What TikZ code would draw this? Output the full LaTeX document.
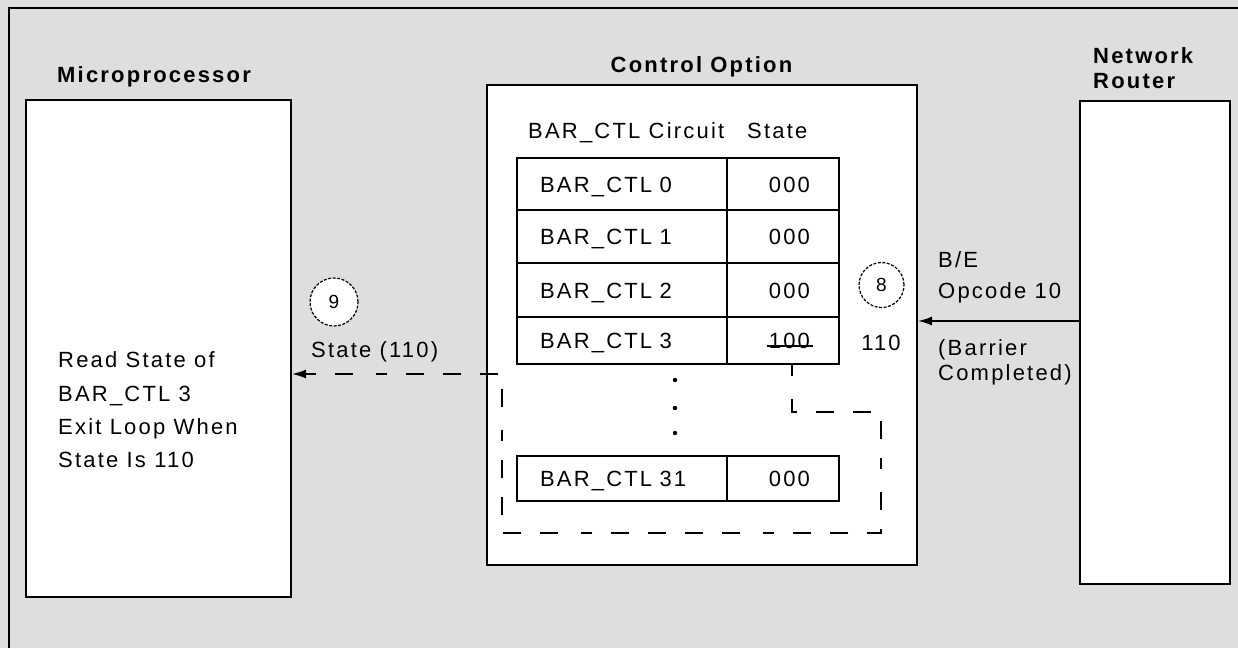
\documentclass[tikz,border=0pt]{standalone}
\usepackage{fontspec}
\setmainfont{Liberation Sans}[LetterSpace=10]
\usetikzlibrary{arrows.meta}
\definecolor{bggray}{RGB}{222,222,222}
\begin{document}
\begin{tikzpicture}[x=1pt,y=-1pt,
  box/.style={draw,line width=2pt,fill=white,inner sep=0pt},
  title/.style={inner sep=0pt,font=\fontsize{22}{26}\selectfont\bfseries},
  txt/.style={inner sep=0pt,font=\fontsize{22}{26}\selectfont},
  namecell/.style={draw,line width=1.5pt,inner ysep=0pt,inner xsep=23pt,text width=164pt,align=left,
     text height=16pt,text depth=0pt,font=\fontsize{22}{26}\selectfont},
  statecell/.style={draw,line width=1.5pt,inner ysep=0pt,inner xsep=29pt,text width=54pt,align=right,
     text height=16pt,text depth=0pt,font=\fontsize{22}{26}\selectfont},
  circ/.style={circle,draw,fill=white,line width=1.2pt,dash pattern=on 3pt off 1.5pt,inner sep=0pt,
     font=\fontsize{19}{22}\selectfont},
  dline/.style={line width=1.5pt,dash pattern=on 12pt off 19pt},
  tip/.style={-{Latex[length=14pt,width=9pt]}}
]
\path[use as bounding box,fill=bggray] (0,0) rectangle (1238,648);
\draw[line width=2pt] (9,648) -- (9,8) -- (1238,8);

% main boxes
\node[box,minimum width=265pt,minimum height=497pt] (mp) at (158.5,348.5) {};
\node[box,minimum width=430pt,minimum height=480pt] (co) at (702,325) {};
\node[box,minimum width=150pt,minimum height=483pt] (nr) at (1155,342.5) {};

% titles
\node[title,anchor=base west] (tmp) at (57,82) {Microprocessor};
\node[title,anchor=base] (tco) at (701.5,72) {Control Option};
\node[title,anchor=base west] (tnr1) at (1093,63) {Network};
\node[title,anchor=base west] (tnr2) at (1093,88) {Router};

% table header
\node[txt,anchor=base west] (h1) at (528,138) {BAR\_CTL Circuit};
\node[txt,anchor=base west] (h2) at (747,138) {State};

% table rows
\node[namecell,minimum height=52pt] (n0) at (622,184) {BAR\_CTL 0};
\node[statecell,minimum height=52pt] (s0) at (783,184) {000};
\node[namecell,minimum height=53pt] (n1) at (622,236.5) {BAR\_CTL 1};
\node[statecell,minimum height=53pt] (s1) at (783,236.5) {000};
\node[namecell,minimum height=54pt] (n2) at (622,290) {BAR\_CTL 2};
\node[statecell,minimum height=54pt] (s2) at (783,290) {000};
\node[namecell,minimum height=47pt] (n3) at (622,340.5) {BAR\_CTL 3};
\node[statecell,minimum height=47pt] (s3) at (783,340.5) {100};
\draw[line width=1.5pt] (767,346) -- (813,346);
\node[namecell,minimum height=45pt] (n31) at (622,478.5) {BAR\_CTL 31};
\node[statecell,minimum height=45pt] (s31) at (783,478.5) {000};

% dots
\fill (675,380) circle (2.2pt);
\fill (675,408) circle (2.2pt);
\fill (675,433) circle (2.2pt);

% new state
\node[circ,minimum size=45pt] (c8) at (881.5,285) {8};
\node[txt,anchor=base] (v110) at (881,350) {110};

% router side text and arrow
\node[txt,anchor=base west] (be1) at (938,267) {B/E};
\node[txt,anchor=base west] (be2) at (938,298) {Opcode 10};
\node[txt,anchor=base west] (be3) at (938,355) {(Barrier};
\node[txt,anchor=base west] (be4) at (938,380) {Completed)};
\coordinate (ra) at ([yshift=21.5pt]nr.west);
\draw[line width=1.5pt,tip] (ra) -- (ra -| co.east);

% microprocessor side
\node[circ,minimum size=48pt] (c9) at (334,302) {9};
\node[txt,anchor=base west] (st) at (311,357) {State (110)};
\node[txt,anchor=base west] (m1) at (58,367) {Read State of};
\node[txt,anchor=base west] (m2) at (58,401) {BAR\_CTL 3};
\node[txt,anchor=base west] (m3) at (58,434) {Exit Loop When};
\node[txt,anchor=base west] (m4) at (58,467) {State Is 110};

% dashed read path
\coordinate (d1) at (881,412);
\coordinate (d2) at (881,533);
\coordinate (d3) at (502,533);
\coordinate (d4) at (502,374);
\draw[dline,dash pattern=on 11pt off 23pt on 18pt off 19pt on 18pt off 19pt on 18pt off 19pt on 18pt off 19pt,tip]
  ([xshift=9pt]s3.south) |- (d1) -- (d2) -- (d3) -- (d4) -- (d4 -| mp.east);
\end{tikzpicture}
\end{document}
